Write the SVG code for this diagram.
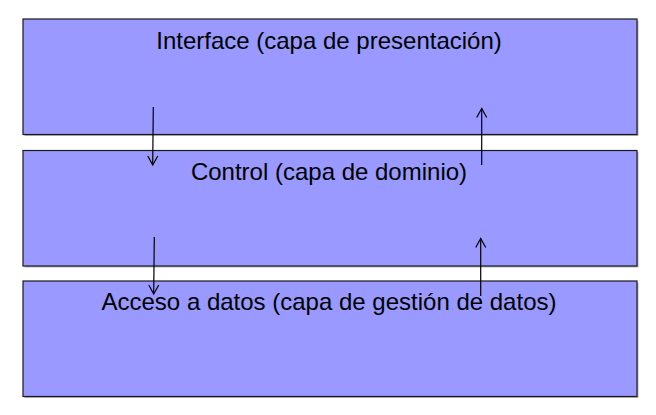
<svg xmlns="http://www.w3.org/2000/svg" width="656" height="415" viewBox="0 0 656 415">
<style>
.box{fill:#9999ff;stroke:#1a1a1a;stroke-width:1.2}
.shadow{fill:#b3b3b3;stroke:none}
.lbl{font-family:"Liberation Sans",Arial,sans-serif;font-size:24px;fill:#000;text-anchor:middle}
.conn{stroke:#000;stroke-width:1.2;fill:none}
</style>
<defs>
<marker id="ah" viewBox="0 0 12 12" refX="10" refY="6" markerWidth="12" markerHeight="12" markerUnits="userSpaceOnUse" orient="auto">
<path d="M1,1 L10,6 L1,11" fill="none" stroke="#000" stroke-width="1.2"/>
</marker>
</defs>
<rect width="656" height="415" fill="#fff"/>
<g id="node-interface">
<rect class="shadow" x="24.5" y="20.5" width="614" height="115.5"/>
<rect class="box" x="23" y="19" width="614" height="115.5"/>
<text class="lbl" x="329" y="49">Interface (capa de presentación)</text>
</g>
<g id="node-control">
<rect class="shadow" x="24.5" y="152" width="614" height="115.5"/>
<rect class="box" x="23" y="150.5" width="614" height="115.5"/>
<text class="lbl" x="329" y="180">Control (capa de dominio)</text>
</g>
<g id="node-datos">
<rect class="shadow" x="24.5" y="282.5" width="614" height="115.5"/>
<rect class="box" x="23" y="281" width="614" height="115.5"/>
<text class="lbl" x="329" y="310">Acceso a datos (capa de gestión de datos)</text>
</g>
<g id="connectors">
<line class="conn" x1="153.3" y1="107" x2="152.7" y2="165" marker-end="url(#ah)"/>
<line class="conn" x1="481.7" y1="165" x2="481.7" y2="108.5" marker-end="url(#ah)"/>
<line class="conn" x1="154.3" y1="237" x2="153.7" y2="294" marker-end="url(#ah)"/>
<line class="conn" x1="480.7" y1="296" x2="480.7" y2="238.5" marker-end="url(#ah)"/>
</g>
</svg>
